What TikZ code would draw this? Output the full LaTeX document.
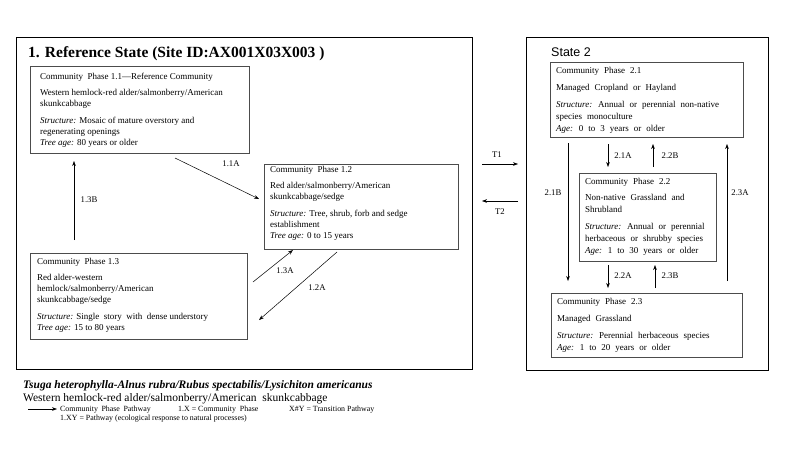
\documentclass[tikz,border=0pt]{standalone}
\usepackage{fontspec}
\setmainfont{Liberation Serif}
\newfontfamily\arialfont{Liberation Sans}
\usetikzlibrary{arrows.meta}
\newcommand\widespR{\spaceskip=5pt plus 1pt minus 1pt\relax}
\newcommand\widespL{\spaceskip=3.6pt plus 1pt minus 1pt\relax}
\begin{document}
\begin{tikzpicture}[x=1pt,y=-1pt,
  outerbox/.style={draw, line width=1.4pt, minimum width=#1, anchor=north west, inner sep=0pt},
  phasebox/.style={draw=black!70, line width=0.7pt, anchor=north west, inner sep=0pt},
  ltext/.style={anchor=north west, inner sep=0pt, align=left, font=\fontsize{9}{11}\selectfont},
  rtext/.style={anchor=north west, inner sep=0pt, align=left, font=\fontsize{9}{12}\selectfont\widespR},
  pth/.style={-{Stealth[length=5pt,width=3.6pt]}, line width=0.5pt},
  lbl/.style={inner sep=0pt, font=\fontsize{8.7}{10}\selectfont},
  legtext/.style={anchor=base west, inner sep=0pt, font=\fontsize{7.9}{9}\selectfont}]
\useasboundingbox (0,0) rectangle (800,450);

% outer state boxes
\node[outerbox=456pt, minimum height=332pt] (s1) at (16,37) {};
\node[outerbox=242pt, minimum height=333pt] (s2) at (526,37) {};
\node[anchor=base west, inner sep=0pt, font=\fontsize{15.5}{18}\selectfont\bfseries] (t1) at (28,57) {1. Reference State (Site ID:AX001X03X003 )};
\node[anchor=base west, inner sep=0pt, font=\fontsize{12.5}{15}\selectfont\arialfont] (t2) at (551,56) {State 2};

% community phase boxes
\node[phasebox, minimum width=219pt, minimum height=87pt] (p11) at (30,66) {};
\node[phasebox, minimum width=194pt, minimum height=85pt] (p12) at (264,164) {};
\node[phasebox, minimum width=217pt, minimum height=86pt] (p13) at (30,253) {};
\node[phasebox, minimum width=193pt, minimum height=75pt] (p21) at (550,62) {};
\node[phasebox, minimum width=137pt, minimum height=88pt] (p22) at (579,173) {};
\node[phasebox, minimum width=191pt, minimum height=64pt] (p23) at (551,293) {};

% box texts
\node[ltext] (x11) at (40,72.8) {Community\ \ Phase 1.1---Reference Community\\[5.5pt]
Western hemlock-red alder/salmonberry/American\\ skunkcabbage\\[5.5pt]
\textit{Structure:} Mosaic of mature overstory and\\ regenerating openings\\
\textit{Tree age:} 80 years or older};
\node[ltext] (x12) at (270,165.8) {Community\ \ Phase 1.2\\[5.5pt]
Red alder/salmonberry/American\\ skunkcabbage/sedge\\[5.5pt]
\textit{Structure:} Tree, shrub, forb and sedge\\ establishment\\
\textit{Tree age:} 0 to 15 years};
\node[ltext] (x13) at (37,257.8) {Community\ \ Phase 1.3\\[5.5pt]
Red alder-western\\ hemlock/salmonberry/American\\ skunkcabbage/sedge\\[5.5pt]
\textit{Structure:} Single\ \ story\ \ with\ \ dense understory\\
\textit{Tree age:} 15 to 80 years};
\node[rtext] (x21) at (556,66.8) {Community Phase 2.1\\[5pt]
Managed Cropland or Hayland\\[5pt]
\textit{Structure:} Annual or perennial non-native\\ species monoculture\\
\textit{Age:} 0 to 3 years or older};
\node[rtext] (x22) at (585,177.8) {Community Phase 2.2\\[4pt]
Non-native Grassland and\\ Shrubland\\[5pt]
\textit{Structure:} Annual or perennial\\ herbaceous or shrubby species\\
\textit{Age:} 1 to 30 years or older};
\node[rtext] (x23) at (557,297.8) {Community Phase 2.3\\[5pt]
Managed Grassland\\[5pt]
\textit{Structure:} Perennial herbaceous species\\
\textit{Age:} 1 to 20 years or older};

% connector end points
\coordinate (a11s) at (175,158); \coordinate (a11e) at (259,199);
\coordinate (a13bs) at (74,240); \coordinate (a13be) at (74,161);
\coordinate (a13as) at (253,282); \coordinate (a13ae) at (293,250);
\coordinate (a12s) at (337,252); \coordinate (a12e) at (259,320);
\coordinate (t1s) at (482,164); \coordinate (t1e) at (518,164);
\coordinate (t2s) at (518,201); \coordinate (t2e) at (482,201);
\coordinate (a21as) at (608,144); \coordinate (a21ae) at (608,167);
\coordinate (a22bs) at (653,167); \coordinate (a22be) at (653,144);
\coordinate (a21bs) at (568,143); \coordinate (a21be) at (568,281);
\coordinate (a23as) at (727,281); \coordinate (a23ae) at (727,144);
\coordinate (a22as) at (608,265); \coordinate (a22ae) at (608,288);
\coordinate (a23bs) at (655,288); \coordinate (a23be) at (655,265);

\draw[pth] (a11s) -- (a11e);
\draw[pth] (a13bs) -- (a13be);
\draw[pth] (a13as) -- (a13ae);
\draw[pth] (a12s) -- (a12e);
\draw[pth] (t1s) -- (t1e);
\draw[pth] (t2s) -- (t2e);
\draw[pth] (a21as) -- (a21ae);
\draw[pth] (a22bs) -- (a22be);
\draw[pth] (a21bs) -- (a21be);
\draw[pth] (a23as) -- (a23ae);
\draw[pth] (a22as) -- (a22ae);
\draw[pth] (a23bs) -- (a23be);

% labels
\node[lbl] (l11a) at (231,164) {1.1A};
\node[lbl] (l13b) at (89,200) {1.3B};
\node[lbl] (l13a) at (285,271) {1.3A};
\node[lbl] (l12a) at (317,288) {1.2A};
\node[lbl] (lt1) at (497,155) {T1};
\node[lbl] (lt2) at (500,212) {T2};
\node[lbl] (l21a) at (623,156) {2.1A};
\node[lbl] (l22b) at (670,156) {2.2B};
\node[lbl] (l21b) at (553,193) {2.1B};
\node[lbl] (l23a) at (740,193) {2.3A};
\node[lbl] (l22a) at (623,276) {2.2A};
\node[lbl] (l23b) at (670,276) {2.3B};

% species names
\node[anchor=base west, inner sep=0pt, font=\fontsize{11.5}{13}\selectfont\bfseries\itshape] (sci) at (23,388.5) {Tsuga heterophylla-Alnus rubra/Rubus spectabilis/Lysichiton americanus};
\node[anchor=base west, inner sep=0pt, font=\fontsize{11.5}{13}\selectfont] (com) at (23,401.5) {Western hemlock-red alder/salmonberry/American\ \ skunkcabbage};

% legend
\coordinate (lgs) at (28,409); \coordinate (lge) at (57,409);
\draw[pth] (lgs) -- (lge);
\node[legtext] (lg1) at (60,411.7) {\widespL Community Phase Pathway};
\node[legtext] (lg2) at (178,411.7) {1.X = Community\ \ Phase};
\node[legtext] (lg3) at (289,411.7) {X\#Y = Transition Pathway};
\node[legtext] (lg4) at (60,420.7) {1.XY = Pathway (ecological response to natural processes)};
\end{tikzpicture}
\end{document}
